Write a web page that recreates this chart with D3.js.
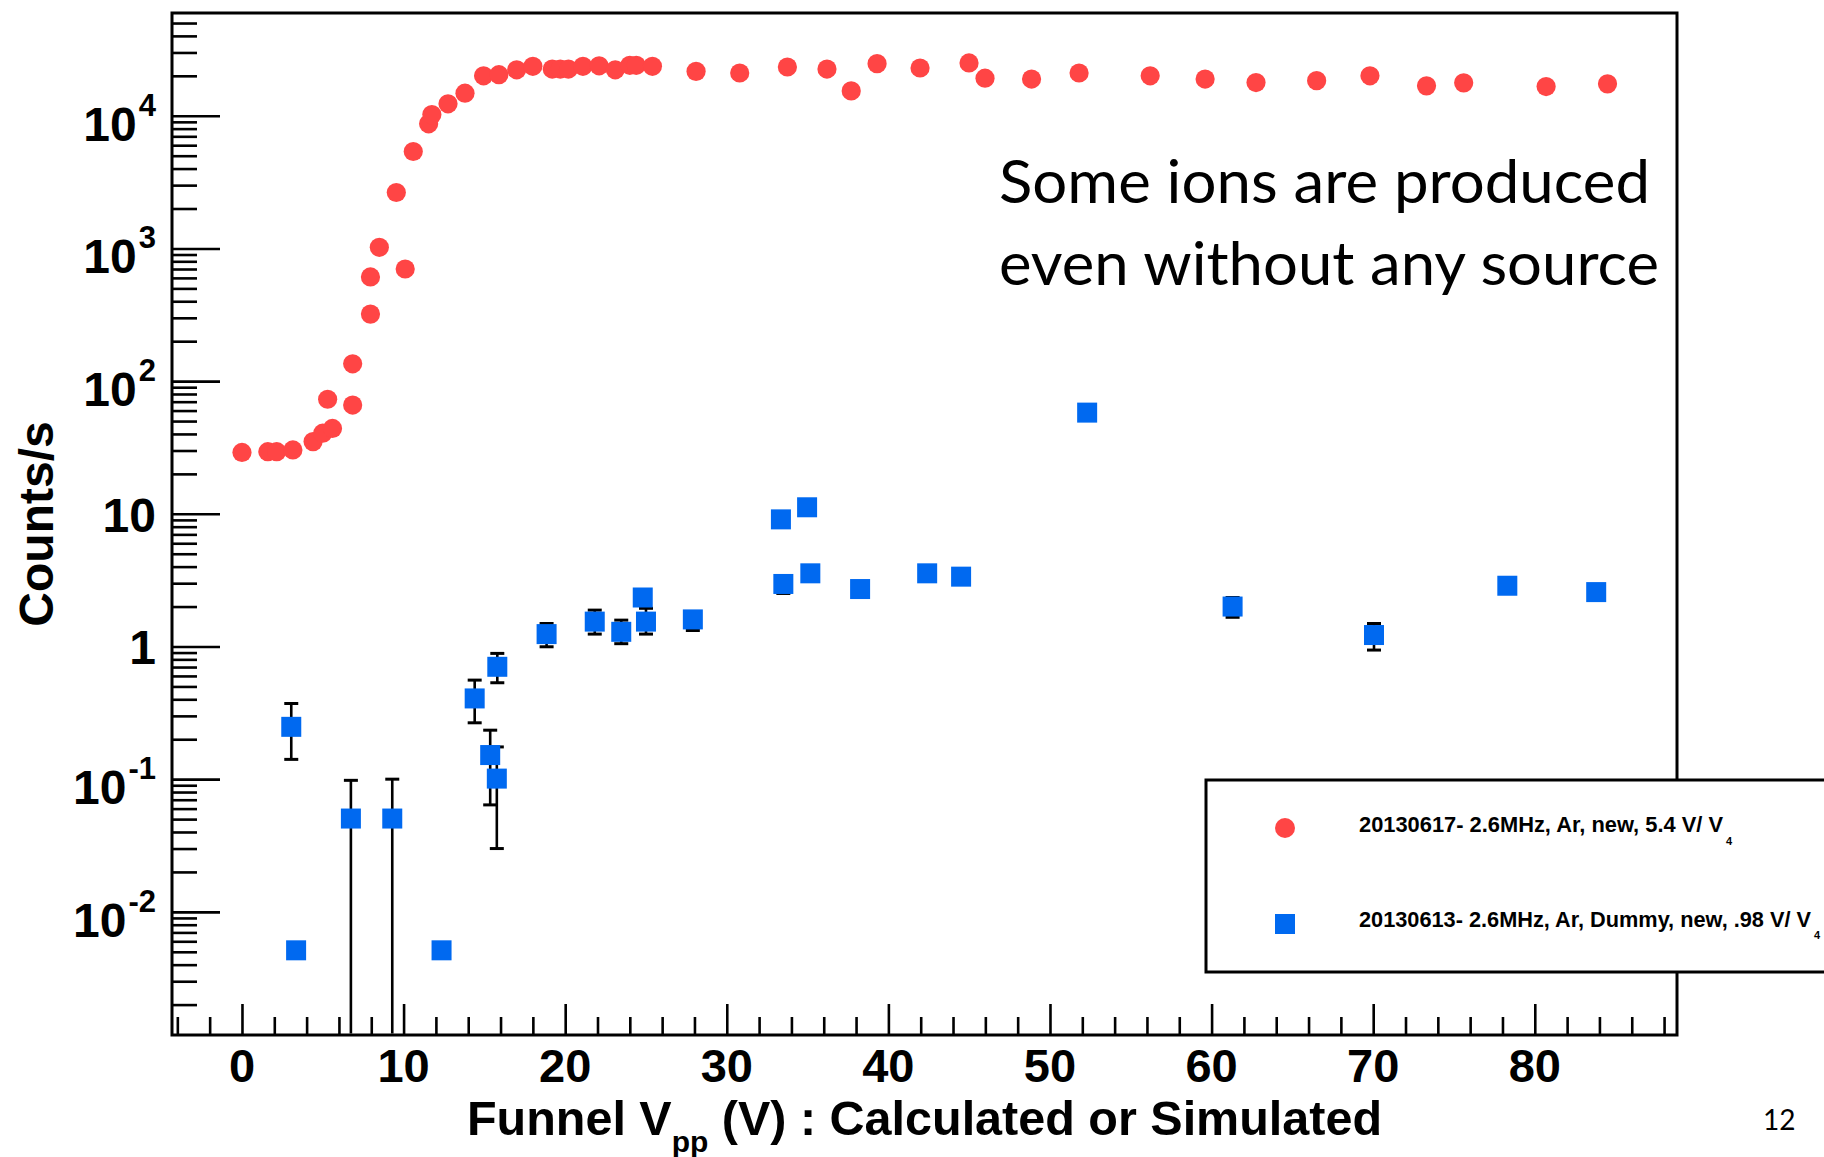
<!DOCTYPE html>
<html><head><meta charset="utf-8">
<script src="https://cdn.jsdelivr.net/npm/d3@7"></script>
<style>body{margin:0;background:#fff}svg{display:block}</style>
</head><body>
<svg id="c" width="1824" height="1157"></svg>
<script>
// ---------------- data ----------------
const redX = [0.0, 1.6, 2.15, 3.15, 4.4, 5.0, 5.3, 5.6, 6.85, 6.85, 7.95, 7.95, 8.5, 9.55, 10.1, 10.6, 11.55, 11.75,
  12.75, 13.8, 14.95, 15.9, 17.0, 18.0, 19.2, 19.7, 20.2, 21.1, 22.1, 23.1, 24.0, 24.4, 25.4, 28.1, 30.8, 33.75,
  36.2, 37.7, 39.3, 41.96, 44.99, 45.98, 48.86, 51.8, 56.2, 59.6, 62.75, 66.5, 69.8, 73.3, 75.6, 80.7, 84.5];
const redY = [29, 29.4, 29.4, 30.3, 35, 40.5, 73, 44, 66, 135, 320, 610, 1020, 2640, 700, 5380, 8700, 10200,
  12300, 14800, 20000, 20400, 22200, 23600, 22500, 22500, 22500, 23600, 23800, 22200, 24000, 24000, 23600, 21600, 21000, 23300,
  22500, 15400, 24700, 22900, 25000, 19200, 18900, 21000, 20000, 18900, 17800, 18400, 20000, 16800, 17700, 16600, 17400];

const blueX = [3.05, 3.35, 6.74, 9.3, 12.35, 14.4, 15.36, 15.8, 15.77, 18.85, 21.83, 23.47, 24.8, 25.0, 27.9,
  33.35, 34.97, 33.5, 35.17, 38.25, 42.4, 44.5, 52.3, 61.3, 70.05, 78.3, 83.8];
const blueY = [0.248, 0.00513, 0.0505, 0.0505, 0.00513, 0.406, 0.152, 0.703, 0.101, 1.24, 1.54, 1.29, 2.34, 1.54, 1.6,
  9.08, 11.2, 2.96, 3.56, 2.71, 3.56, 3.36, 57.9, 2.0, 1.22, 2.87, 2.57];
// error bar limits (null = bar hidden inside marker); 0 = runs off the bottom of the log axis
const blueLow = [0.141, null, 0, 0, null, 0.266, 0.064, 0.533, 0.030, 0.995, 1.24, 1.05, null, 1.24, 1.32,
  null, null, 2.51, null, null, null, null, null, 1.66, 0.94, null, null];
const blueHigh = [0.372, null, 0.098, 0.1, null, 0.558, 0.234, 0.887, 0.175, 1.49, 1.88, 1.58, null, 1.94, 1.75,
  null, null, 3.3, null, null, null, null, null, 2.34, 1.49, null, null];

const xTickValues = [0, 10, 20, 30, 40, 50, 60, 70, 80];
const xTickLabels = ["0", "10", "20", "30", "40", "50", "60", "70", "80"];
const yTickValues = [1e-2, 1e-1, 1, 10, 1e2, 1e3, 1e4];
const yTickBase = ["10", "10", "1", "10", "10", "10", "10"];
const yTickExp = ["-2", "-1", "", "", "2", "3", "4"];

const legendLabels = ["20130617- 2.6MHz, Ar, new, 5.4 V/ V", "20130613- 2.6MHz, Ar, Dummy, new, .98 V/ V"];
const legendSub = ["4", "4"];
const noteLines = ["Some ions are produced", "even without any source"];
const xTitle = ["Funnel V", "pp", " (V) : Calculated or Simulated"];
const yTitle = "Counts/s";
const pageNumber = "12";

// ---------------- layout ----------------
const P = {left: 172, top: 13, right: 1677, bottom: 1035};
const RED = "#ff4545", BLUE = "#0069f0";
const HELV = "'Liberation Sans', Arial, Helvetica, sans-serif";

const svg = d3.select("#c");
svg.append("rect").attr("width", 1824).attr("height", 1157).attr("fill", "#fff");

const x = d3.scaleLinear().domain([-4.33, 88.8]).range([P.left, P.right]);
const y = d3.scaleLog().domain([1.18e-3, 5.95e4]).range([P.bottom, P.top]);

// minor ticks
const xMinor = d3.range(-4, 89, 2).filter(v => v % 10 !== 0 && x(v) > P.left + 2 && x(v) < P.right - 2);
const yMinor = [];
for (let d = -3; d <= 4; d++) for (let k = 2; k <= 9; k++) {
  const v = k * Math.pow(10, d);
  if (y(v) < P.bottom - 2 && y(v) > P.top + 2) yMinor.push(v);
}

function styleAxis(g) {
  g.select(".domain").remove();
  g.selectAll(".tick line").attr("stroke", "#000").attr("stroke-width", 2.6);
  g.selectAll(".tick text").remove();
}
svg.append("g").attr("transform", `translate(0,${P.bottom})`)
  .call(d3.axisBottom(x).tickValues(xTickValues).tickSizeInner(-31).tickSizeOuter(0)).call(styleAxis);
svg.append("g").attr("transform", `translate(0,${P.bottom})`)
  .call(d3.axisBottom(x).tickValues(xMinor).tickSizeInner(-18).tickSizeOuter(0)).call(styleAxis);
svg.append("g").attr("transform", `translate(${P.left},0)`)
  .call(d3.axisLeft(y).tickValues(yTickValues).tickSizeInner(-48).tickSizeOuter(0)).call(styleAxis);
svg.append("g").attr("transform", `translate(${P.left},0)`)
  .call(d3.axisLeft(y).tickValues(yMinor).tickSizeInner(-25).tickSizeOuter(0)).call(styleAxis);

// frame
svg.append("rect").attr("x", P.left).attr("y", P.top)
  .attr("width", P.right - P.left).attr("height", P.bottom - P.top)
  .attr("fill", "none").attr("stroke", "#000").attr("stroke-width", 3);

// x tick labels
svg.append("g").selectAll("text").data(xTickValues).join("text")
  .attr("x", d => x(d)).attr("y", 1082)
  .attr("text-anchor", "middle")
  .attr("font-family", HELV).attr("font-weight", "bold").attr("font-size", 47)
  .text((d, i) => xTickLabels[i]);

// y tick labels
const yl = svg.append("g").selectAll("text").data(yTickValues).join("text")
  .attr("x", 156)
  .attr("y", (d, i) => y(d) + (yTickExp[i] ? 25 : 18))
  .attr("text-anchor", "end")
  .attr("font-family", HELV).attr("font-weight", "bold").attr("font-size", 48);
yl.each(function(d, i) {
  const t = d3.select(this);
  t.append("tspan").text(yTickBase[i]);
  if (yTickExp[i]) t.append("tspan").attr("dx", 2).attr("dy", -25).attr("font-size", 31).text(yTickExp[i]);
});

// axis titles
const xt = svg.append("text").attr("x", (P.left + P.right) / 2).attr("y", 1135)
  .attr("text-anchor", "middle").attr("font-family", HELV).attr("font-weight", "bold").attr("font-size", 48.5);
xt.append("tspan").text(xTitle[0]);
xt.append("tspan").attr("dy", 17).attr("font-size", 30).text(xTitle[1]);
xt.append("tspan").attr("dy", -17).text(xTitle[2]);

svg.append("text").attr("transform", `translate(53,${(P.top + P.bottom) / 2}) rotate(-90)`)
  .attr("text-anchor", "middle").attr("font-family", HELV).attr("font-weight", "bold").attr("font-size", 48)
  .text(yTitle);

// data
svg.append("defs").append("clipPath").attr("id", "plotclip").append("rect")
  .attr("x", P.left + 1.5).attr("y", P.top + 1.5)
  .attr("width", P.right - P.left - 3).attr("height", P.bottom - P.top - 3);
const data = svg.append("g").attr("clip-path", "url(#plotclip)");

const blue = blueX.map((v, i) => ({x: v, y: blueY[i], lo: blueLow[i], hi: blueHigh[i]}));
const yy = v => (v <= 0 ? P.bottom + 10 : y(v));
const eb = data.append("g").attr("stroke", "#000").attr("stroke-width", 2.6);
blue.filter(d => d.lo !== null).forEach(d => {
  eb.append("line").attr("x1", x(d.x)).attr("x2", x(d.x)).attr("y1", yy(d.lo)).attr("y2", y(d.hi));
  eb.append("line").attr("x1", x(d.x) - 7).attr("x2", x(d.x) + 7).attr("y1", y(d.hi)).attr("y2", y(d.hi)).attr("stroke-width", 3);
  if (d.lo > 0) eb.append("line").attr("x1", x(d.x) - 7).attr("x2", x(d.x) + 7).attr("y1", y(d.lo)).attr("y2", y(d.lo)).attr("stroke-width", 3);
});

data.append("g").selectAll("rect").data(blue).join("rect")
  .attr("x", d => x(d.x) - 10).attr("y", d => y(d.y) - 10)
  .attr("width", 20).attr("height", 20).attr("fill", BLUE);

data.append("g").selectAll("circle").data(redX.map((v, i) => ({x: v, y: redY[i]}))).join("circle")
  .attr("cx", d => x(d.x)).attr("cy", d => y(d.y)).attr("r", 9.6).attr("fill", RED);

// annotation
noteLines.forEach((t, i) => {
  svg.append("text").attr("x", 999).attr("y", [203, 285][i])
    .attr("font-family", "Lato, 'Open Sans', sans-serif").attr("font-size", 60)
    .attr("textLength", [651, 660][i]).attr("lengthAdjust", "spacingAndGlyphs")
    .attr("fill", "#000").text(t);
});

// legend
const lg = svg.append("g");
lg.append("rect").attr("x", 1206).attr("y", 780).attr("width", 660).attr("height", 192)
  .attr("fill", "#fff").attr("stroke", "#000").attr("stroke-width", 3);
lg.append("circle").attr("cx", 1285).attr("cy", 828).attr("r", 10).attr("fill", RED);
lg.append("rect").attr("x", 1275).attr("y", 914).attr("width", 20).attr("height", 20).attr("fill", BLUE);
[[832, 364, 1726, 845], [927, 452, 1814, 939]].forEach((p, i) => {
  lg.append("text").attr("x", 1359).attr("y", p[0])
    .attr("font-family", HELV).attr("font-weight", "bold").attr("font-size", 21.5)
    .attr("textLength", p[1]).attr("lengthAdjust", "spacingAndGlyphs").text(legendLabels[i]);
  lg.append("text").attr("x", p[2]).attr("y", p[3])
    .attr("font-family", HELV).attr("font-weight", "bold").attr("font-size", 11).text(legendSub[i]);
});

// page number
svg.append("text").attr("x", 1763).attr("y", 1130)
  .attr("font-family", "Lato, 'Open Sans', sans-serif").attr("font-size", 28).text(pageNumber);
</script>
</body></html>
